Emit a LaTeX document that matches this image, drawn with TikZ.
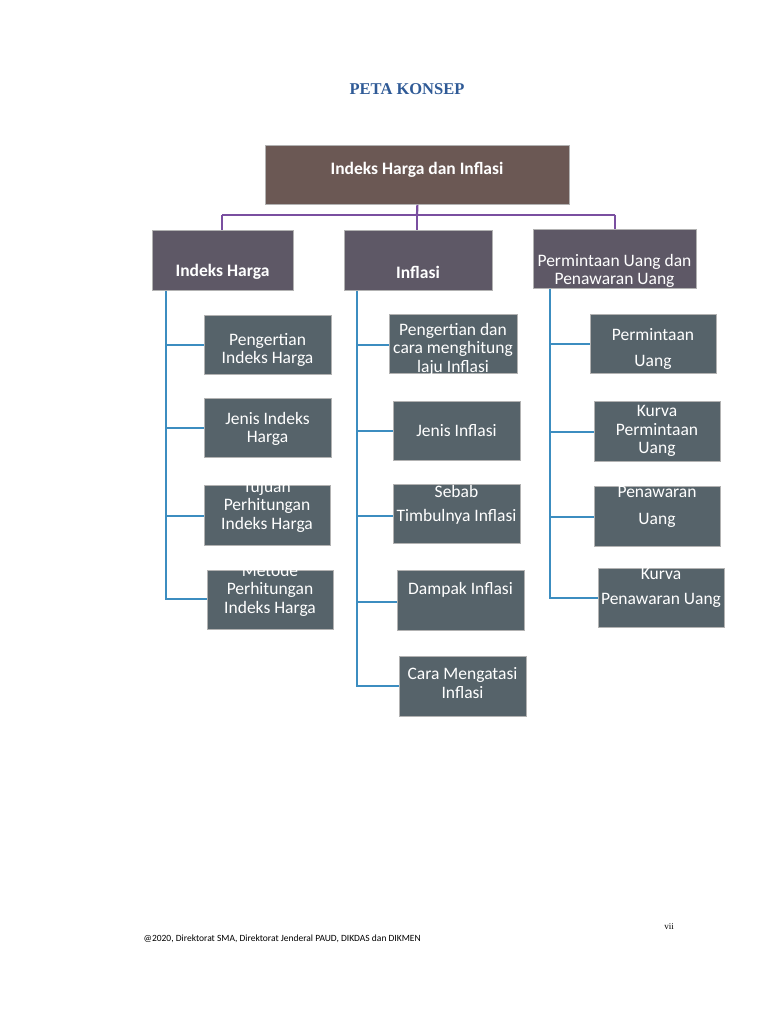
\documentclass[tikz,border=0pt]{standalone}
\usepackage{fontspec}
\setmainfont{Carlito}
\newfontfamily\serifx{Liberation Serif}
\definecolor{topc}{HTML}{6B5854}
\definecolor{midc}{HTML}{5E5866}
\definecolor{leafc}{HTML}{56636A}
\definecolor{purp}{HTML}{7A4FA0}
\definecolor{bluec}{HTML}{3C8DC0}
\definecolor{titc}{HTML}{2F5A96}
\tikzset{
 boxs/.style={draw=gray!60, line width=0.8pt, inner sep=0pt},
 txt/.style={text=white, align=center, font=\fontsize{17.5}{18.5}\selectfont, inner sep=0pt},
 pl/.style={purp, line width=2.2pt},
 bl/.style={bluec, line width=2.4pt},
}
\newcommand{\bx}[8]{% name, x1,y1,x2,y2, fill, text, text y
 \node[boxs, fill=#6, minimum width=#4-#2, minimum height=#5-#3, anchor=north west] (#1) at (#2,#3) {};
 \node[txt] (#1t) at ({(#2+#4)/2},#8) {#7};
}
\begin{document}
\begin{tikzpicture}[x=1pt,y=-1pt]
\useasboundingbox (0,0) rectangle (768,1024);
\node[font=\serifx\bfseries\fontsize{16.5}{18}\selectfont, text=titc] (title) at (407,89) {PETA KONSEP};
\coordinate (jt) at (417,215);
\coordinate (j1) at (222,215);
\coordinate (j3) at (615,215);
\bx{top}{265}{145}{569}{204}{topc}{\bfseries Indeks Harga dan Inflasi}{170}
\bx{a}{152}{230}{293}{290}{midc}{\bfseries Indeks Harga}{272}
\bx{b}{344}{230}{492}{290}{midc}{\bfseries Inflasi}{272}
\bx{c}{533}{229}{696}{288}{midc}{Permintaan Uang dan\\Penawaran Uang}{271}
\draw[pl] (top.south) -- (jt);
\draw[pl] (j1) -- (j3);
\draw[pl] (j1) -- (j1 |- a.north);
\draw[pl] (jt) -- (jt |- b.north);
\draw[pl] (j3) -- (j3 |- c.north);
\bx{a1}{204}{315}{331}{374}{leafc}{Pengertian\\Indeks Harga}{350}
\bx{a2}{204}{398}{331}{457}{leafc}{Jenis Indeks\\Harga}{429}
\bx{a3}{204}{485}{330}{545}{leafc}{Tujuan\\Perhitungan\\Indeks Harga}{506}
\bx{a4}{207}{570}{333}{629}{leafc}{Metode\\Perhitungan\\Indeks Harga}{590}
\bx{b1}{389}{314}{517}{373}{leafc}{Pengertian dan\\cara menghitung\\laju Inflasi}{349}
\bx{b2}{393}{401}{520}{460}{leafc}{Jenis Inflasi}{431}
\bx{b3}{393}{484}{520}{543}{leafc}{Sebab\\[6pt]Timbulnya Inflasi}{505}
\bx{b4}{397}{570}{524}{630}{leafc}{Dampak Inflasi}{590}
\bx{b5}{399}{656}{526}{716}{leafc}{Cara Mengatasi\\Inflasi}{683}
\bx{c1}{590}{314}{716}{373}{leafc}{Permintaan\\[8pt]Uang}{349}
\bx{c2}{594}{401}{720}{461}{leafc}{Kurva\\Permintaan\\Uang}{431}
\bx{c3}{594}{486}{720}{546}{leafc}{Penawaran\\[8pt]Uang}{507}
\bx{c4}{598}{568}{724}{627}{leafc}{Kurva\\[6pt]Penawaran Uang}{588}
\coordinate (ta) at (166,599);
\coordinate (tb) at (357,686);
\coordinate (tc) at (550,598);
\draw[bl] (ta |- a.south) -- (ta) -- (a4.west |- ta);
\draw[bl] (tb |- b.south) -- (tb) -- (b5.west |- tb);
\draw[bl] (tc |- c.south) -- (tc) -- (c4.west |- tc);
\foreach \n/\y in {a1/345,a2/428,a3/516}{\draw[bl] (166,\y) -- (\n.west |- 0,\y);}
\foreach \n/\y in {b1/345,b2/431,b3/516,b4/602}{\draw[bl] (357,\y) -- (\n.west |- 0,\y);}
\foreach \n/\y in {c1/344,c2/432,c3/517}{\draw[bl] (550,\y) -- (\n.west |- 0,\y);}
\node[font=\serifx\fontsize{9}{10}\selectfont] (pg) at (669,927) {vii};
\node[font=\fontsize{9.5}{10}\selectfont, anchor=west] (foot) at (140,939) {@2020, Direktorat SMA, Direktorat Jenderal PAUD, DIKDAS dan DIKMEN};
\end{tikzpicture}
\end{document}
